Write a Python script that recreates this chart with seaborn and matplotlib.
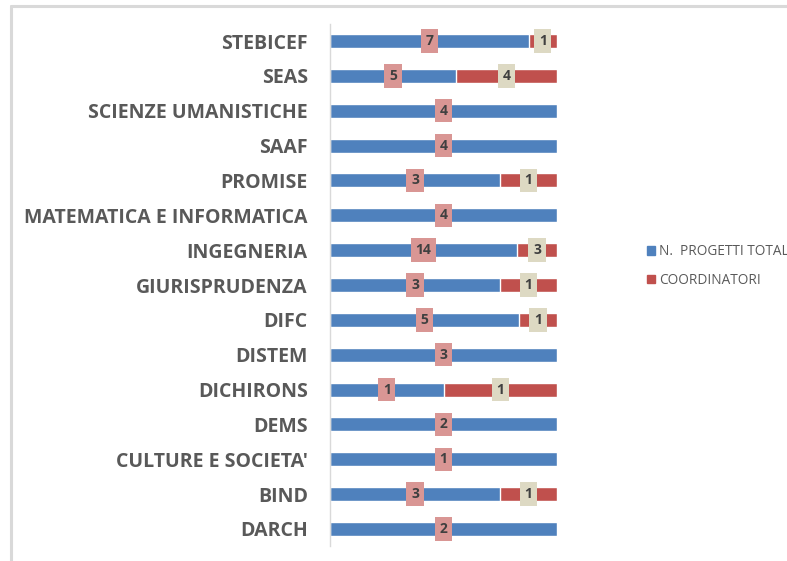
import numpy as np
import pandas as pd
import seaborn as sns
import matplotlib.pyplot as plt
from matplotlib.lines import Line2D
from matplotlib.patches import Patch


dipartimenti = ['STEBICEF', 'SEAS', 'SCIENZE UMANISTICHE', 'SAAF', 'PROMISE',
                'MATEMATICA E INFORMATICA', 'INGEGNERIA', 'GIURISPRUDENZA',
                'DIFC', 'DISTEM', 'DICHIRONS', 'DEMS', "CULTURE E SOCIETA'",
                'BIND', 'DARCH']
progetti = [7, 5, 4, 4, 3, 4, 14, 3, 5, 3, 1, 2, 1, 3, 2]
coordinatori = [1, 4, 0, 0, 1, 0, 3, 1, 1, 0, 1, 0, 0, 1, 0]

BLUE = '#4f81bd'
RED = '#c0504d'
TXT = '#595959'

sns.set_style('white')
plt.rcParams['font.family'] = ['Open Sans', 'DejaVu Sans']

df = pd.DataFrame({'dip': dipartimenti,
                   'progetti': progetti,
                   'coordinatori': coordinatori})
tot = df['progetti'] + df['coordinatori']
df['p_prog'] = df['progetti'] / tot
df['p_coord'] = df['coordinatori'] / tot
df['totale'] = df['p_prog'] + df['p_coord']

fig = plt.figure(figsize=(7.87, 5.61), dpi=100)
ax = fig.add_axes([330 / 787, 14.6 / 561, 227 / 787, 522.8 / 561])

# red underneath, blue share drawn on top of it
sns.barplot(data=df, x='totale', y='dip', color=RED, width=0.4,
            saturation=1, ax=ax)
sns.barplot(data=df, x='p_prog', y='dip', color=BLUE, width=0.4,
            saturation=1, ax=ax)

box = dict(boxstyle='square,pad=0.34', ec='none')
for i, row in df.iterrows():
    ax.text(row['p_prog'] / 2, i, str(row['progetti']),
            ha='center', va='center', fontsize=10, fontweight='bold',
            color='#404040', bbox={**box, 'fc': '#d99694'})
    if row['coordinatori'] > 0:
        ax.text(row['p_prog'] + row['p_coord'] / 2, i,
                str(row['coordinatori']),
                ha='center', va='center', fontsize=10, fontweight='bold',
                color='#404040', bbox={**box, 'fc': '#ddd9c3'})

ax.set_xlim(0, 1)
ax.set_ylim(14.5, -0.5)
ax.set_xlabel('')
ax.set_ylabel('')
ax.set_xticks([])
ax.tick_params(axis='y', length=0, pad=16)
for lbl in ax.get_yticklabels():
    lbl.set_fontsize(14)
    lbl.set_fontweight('bold')
    lbl.set_color(TXT)
for s in ['top', 'right', 'bottom']:
    ax.spines[s].set_visible(False)
ax.spines['left'].set_color('#d9d9d9')
ax.spines['left'].set_linewidth(1)

handles = [Patch(color=BLUE, label='N.  PROGETTI TOTAL'),
           Patch(color=RED, label='COORDINATORI')]
fig.legend(handles=handles, loc='upper left',
           bbox_to_anchor=(635 / 787, 1 - 232 / 561), frameon=False,
           handlelength=0.55, handleheight=0.55, handletextpad=0.3,
           labelspacing=1.0, prop={'size': 9.8}, labelcolor=TXT)

# chart area frame
fig.add_artist(Line2D([10.5 / 787, 10.5 / 787], [0, 1 - 6 / 561],
                      transform=fig.transFigure, color='#d9d9d9', lw=2.2))
fig.add_artist(Line2D([10.5 / 787, 1], [1 - 6 / 561, 1 - 6 / 561],
                      transform=fig.transFigure, color='#d9d9d9', lw=2.2))

plt.savefig('out.png', dpi=100)
